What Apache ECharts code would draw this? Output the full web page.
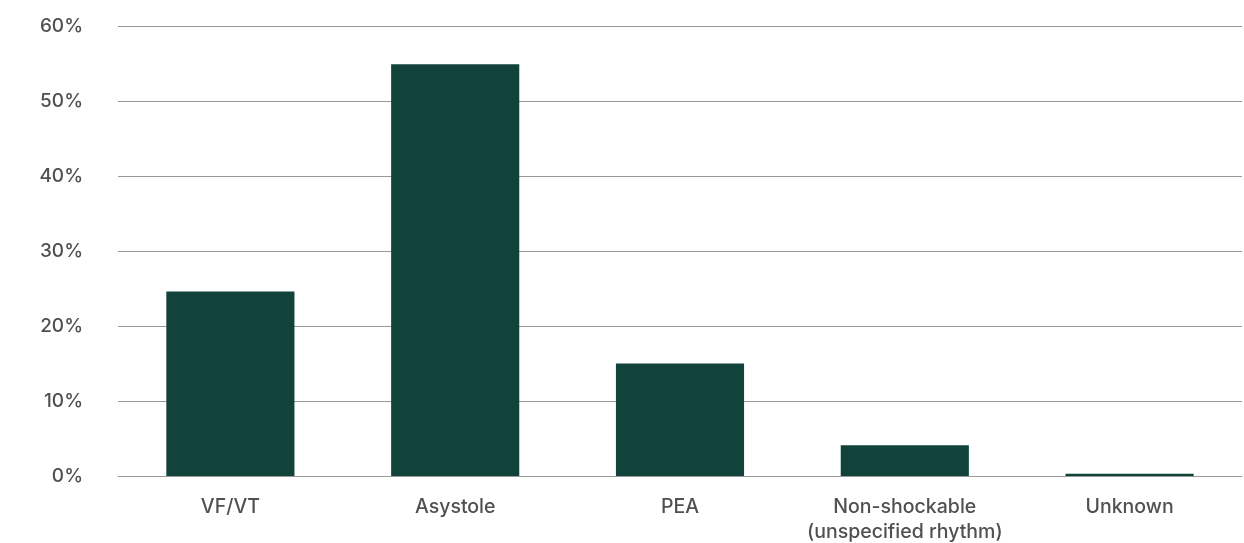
<!DOCTYPE html>
<html>
<head>
<meta charset="utf-8">
<script src="https://cdn.jsdelivr.net/npm/echarts@6/dist/echarts.min.js"></script>
<style>
  html, body { margin: 0; padding: 0; background: #ffffff; }
  #chart { width: 1244px; height: 543px; }
</style>
</head>
<body>
<div id="chart"></div>
<script>
// Share of initial cardiac rhythms (percent)
const categories = ['VF/VT', 'Asystole', 'PEA', 'Non-shockable\n(unspecified rhythm)', 'Unknown'];
const shares = [24.6, 54.9, 15.0, 4.1, 0.3];

const chart = echarts.init(document.getElementById('chart'));
chart.setOption({
  animation: false,
  grid: { left: 118, right: 2, top: 26, bottom: 67, outerBoundsMode: 'none', containLabel: false },
  xAxis: {
    type: 'category',
    data: categories,
    axisLine: { show: true, lineStyle: { color: '#999999', width: 1 } },
    axisTick: { show: false },
    axisLabel: {
      interval: 0,
      hideOverlap: false,
      color: '#505050',
      fontFamily: 'Inter, "Open Sans", sans-serif',
      fontWeight: 500,
      fontSize: 19.5,
      lineHeight: 25,
      margin: 19
    }
  },
  yAxis: {
    type: 'value',
    min: 0,
    max: 60,
    interval: 10,
    axisLine: { show: false },
    axisTick: { show: false },
    splitLine: { lineStyle: { color: '#999999', width: 1 } },
    axisLabel: {
      formatter: '{value}%',
      color: '#505050',
      fontFamily: 'Inter, "Open Sans", sans-serif',
      fontWeight: 500,
      fontSize: 19,
      margin: 35
    }
  },
  series: [{
    type: 'bar',
    data: shares,
    barWidth: '57%',
    itemStyle: { color: '#12433b' }
  }]
});
</script>
</body>
</html>
